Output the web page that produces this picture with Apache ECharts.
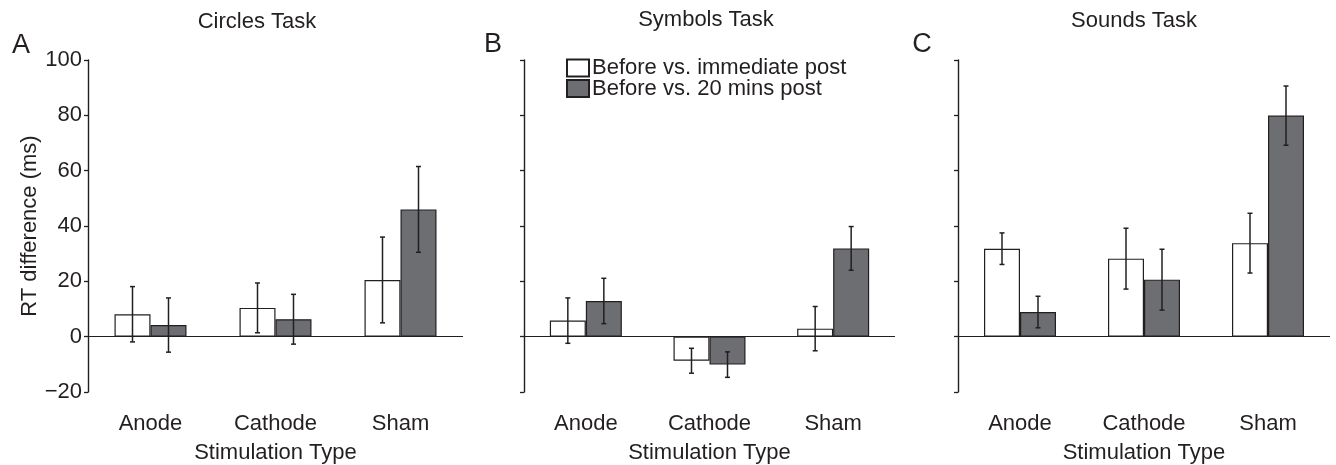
<!DOCTYPE html>
<html>
<head>
<meta charset="utf-8">
<script src="https://cdn.jsdelivr.net/npm/echarts@6/dist/echarts.min.js"></script>
<style>html,body{margin:0;padding:0;background:#fff}#chart{width:1336px;height:465px}</style>
</head>
<body>
<div id="chart"></div>
<script>
// ---- data ----
const categories = ['Anode', 'Cathode', 'Sham'];
const panelTitles = ['Circles Task', 'Symbols Task', 'Sounds Task'];
const panelLetters = ['A', 'B', 'C'];
const seriesNames = ['Before vs. immediate post', 'Before vs. 20 mins post'];
const yTicks = [-20, 0, 20, 40, 60, 80, 100];

const circlesImmediate = [8.1, 10.4, 20.5];
const circlesImmediateErr = [10, 9, 15.5];
const circles20 = [4.2, 6.3, 46];
const circles20Err = [9.8, 9, 15.5];

const symbolsImmediate = [5.8, -8.7, 2.9];
const symbolsImmediateErr = [8.2, 4.5, 8];
const symbols20 = [12.9, -10.1, 31.9];
const symbols20Err = [8.2, 4.6, 7.9];

const soundsImmediate = [31.8, 28.2, 33.8];
const soundsImmediateErr = [5.7, 11, 10.8];
const sounds20 = [8.9, 20.6, 79.9];
const sounds20Err = [5.7, 11, 10.7];

// ---- build ----
const panels = [
  [circlesImmediate, circlesImmediateErr, circles20, circles20Err],
  [symbolsImmediate, symbolsImmediateErr, symbols20, symbols20Err],
  [soundsImmediate, soundsImmediateErr, sounds20, sounds20Err]
];
const FONT = 'Liberation Sans, Arial, Helvetica, sans-serif';
const INK = '#231f20';
const DARK = '#6d6e71';
const BAR_W = 36;

const grids = [
  {left: 88, width: 375, top: 60, height: 332, outerBoundsMode: 'none', containLabel: false},
  {left: 524, width: 371, top: 60, height: 332, outerBoundsMode: 'none', containLabel: false},
  {left: 958, width: 372, top: 60, height: 332, outerBoundsMode: 'none', containLabel: false}
];

const xAxes = [], yAxes = [], series = [];
panels.forEach((p, k) => {
  xAxes.push({
    type: 'category', gridIndex: k, data: categories,
    axisLine: {show: false, onZero: false}, axisTick: {show: false},
    axisLabel: {color: INK, fontSize: 22, fontFamily: FONT, margin: 21},
    name: 'Stimulation Type', nameLocation: 'middle', nameGap: 50,
    nameTextStyle: {color: INK, fontSize: 22, fontFamily: FONT}
  });
  yAxes.push({
    type: 'value', gridIndex: k, min: yTicks[0], max: yTicks[yTicks.length - 1], interval: 20,
    axisLine: {show: true, lineStyle: {color: INK, width: 1.4}},
    axisTick: {show: true, length: 4, lineStyle: {color: INK, width: 1.3}},
    splitLine: {show: false},
    axisLabel: {show: k === 0, color: INK, fontSize: 22, fontFamily: FONT, margin: 6,
      formatter: v => String(v).replace('-', '\u2212')},
    name: k === 0 ? 'RT difference (ms)' : '', nameLocation: 'middle', nameGap: 42,
    nameTextStyle: {color: INK, fontSize: 22, fontFamily: FONT}
  });
  const vals = [p[0], p[2]], errs = [p[1], p[3]];
  vals.forEach((v, s) => {
    const ser = {
      type: 'bar', name: seriesNames[s], xAxisIndex: k, yAxisIndex: k,
      data: v, barWidth: BAR_W, barGap: '0%',
      itemStyle: {color: s === 0 ? '#ffffff' : DARK, borderColor: INK, borderWidth: 1.2},
      emphasis: {disabled: true}, silent: true, z: 2
    };
    if (s === 0) {
      ser.markLine = {
        silent: true, symbol: 'none', label: {show: false},
        lineStyle: {color: INK, width: 1.2, type: 'solid'},
        data: [{yAxis: 0}], animation: false
      };
    }
    series.push(ser);
  });
  const errData = [];
  [0, 1].forEach(s => {
    categories.forEach((c, i) => errData.push([i, vals[s][i], errs[s][i], s === 0 ? -1 : 1]));
  });
  series.push({
    type: 'custom', xAxisIndex: k, yAxisIndex: k, data: errData, z: 5, silent: true,
    encode: {x: 0, y: 1},
    renderItem: (params, api) => {
      const i = api.value(0), v = api.value(1), e = api.value(2), side = api.value(3);
      const x = api.coord([i, v])[0] + side * BAR_W / 2;
      const yt = api.coord([i, v + e])[1];
      const yb = api.coord([i, v - e])[1];
      const st = {stroke: INK, lineWidth: 1.5};
      const cw = 2.5;
      return {type: 'group', children: [
        {type: 'line', shape: {x1: x, y1: yt, x2: x, y2: yb}, style: st},
        {type: 'line', shape: {x1: x - cw, y1: yt, x2: x + cw, y2: yt}, style: st},
        {type: 'line', shape: {x1: x - cw, y1: yb, x2: x + cw, y2: yb}, style: st}
      ]};
    }
  });
});

const titlePos = [[257, 22], [706, 20], [1134, 21]];
const letterPos = [[21, 46], [493, 45], [922, 45]];
const graphic = [];
panelTitles.forEach((t, k) => {
  graphic.push({type: 'text', x: titlePos[k][0], y: titlePos[k][1], silent: true,
    style: {text: t, fontSize: 22, fontFamily: FONT, fill: INK, align: 'center', verticalAlign: 'middle'}});
  graphic.push({type: 'text', x: letterPos[k][0], y: letterPos[k][1], silent: true,
    style: {text: panelLetters[k], fontSize: 27, fontFamily: FONT, fill: INK, align: 'center', verticalAlign: 'middle'}});
});

const chart = echarts.init(document.getElementById('chart'), null, {renderer: 'canvas'});
chart.setOption({
  animation: false,
  backgroundColor: '#ffffff',
  grid: grids,
  xAxis: xAxes,
  yAxis: yAxes,
  series: series,
  graphic: graphic,
  legend: {
    data: seriesNames, orient: 'vertical', left: 566, top: 57, padding: 0,
    itemWidth: 22, itemHeight: 17, itemGap: -1.5, icon: 'rect', selectedMode: false,
    textStyle: {color: INK, fontSize: 22, fontFamily: FONT, padding: [0, 0, 0, -2]}
  }
});
</script>
</body>
</html>
